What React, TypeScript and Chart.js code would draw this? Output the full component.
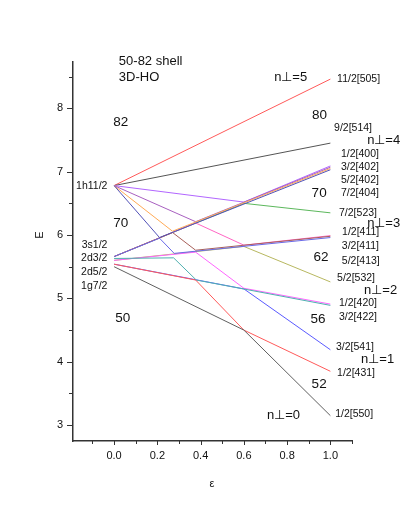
import { useEffect, useRef } from 'react';
import { Chart, registerables } from 'chart.js';

Chart.register(...registerables);

const FONT = '"Liberation Sans", Arial, Helvetica, sans-serif';

// axis ranges and ticks
const epsRange = [-0.19, 1.1];
const energyRange = [2.75, 8.73];
const xMajorTicks = [0, 0.2, 0.4, 0.6, 0.8, 1.0];
const xMinorTicks = [-0.1, 0.1, 0.3, 0.5, 0.7, 0.9, 1.1];
const yMajorTicks = [3, 4, 5, 6, 7, 8];
const yMinorTicks = [3.5, 4.5, 5.5, 6.5, 7.5, 8.5];

// level lines: [epsilon, E] points (kinks where same-Omega levels meet)
const level11_2_505 = [[0, 6.78], [1, 8.46]];
const level9_2_514 = [[0, 6.78], [1, 7.45]];
const level7_2_a = [[0, 6.78], [0.6, 6.52], [1, 7.09]];
const level7_2_b = [[0, 5.66], [0.6, 6.5], [1, 6.35]];
const level5_2_a = [[0, 6.78], [0.377, 6.21], [1, 7.07]];
const level5_2_b = [[0, 5.66], [0.377, 6.19], [0.6, 5.84], [1, 5.99]];
const level5_2_c = [[0, 5.6], [0.6, 5.82], [1, 5.26]];
const level3_2_a = [[0, 6.78], [0.27, 6.06], [1, 7.05]];
const level3_2_b = [[0, 5.66], [0.27, 6.04], [0.377, 5.76], [1, 5.98]];
const level3_2_c = [[0, 5.6], [0.377, 5.73], [0.6, 5.16], [1, 4.91]];
const level3_2_d = [[0, 5.54], [0.6, 5.15], [1, 4.19]];
const level1_2_a = [[0, 6.78], [0.21, 5.96], [1, 7.03]];
const level1_2_b = [[0, 5.66], [0.21, 5.95], [0.278, 5.71], [1, 5.96]];
const level1_2_c = [[0, 5.63], [0.275, 5.64], [0.38, 5.29], [1, 4.89]];
const level1_2_d = [[0, 5.54], [0.377, 5.29], [0.6, 4.5], [1, 3.85]];
const level1_2_e = [[0, 5.5], [0.6, 4.5], [1, 3.15]];

const seriesData = [
  level1_2_e, level1_2_d, level1_2_c, level1_2_b, level1_2_a,
  level3_2_d, level3_2_c, level3_2_b, level3_2_a,
  level5_2_c, level5_2_b, level5_2_a,
  level7_2_b, level7_2_a,
  level9_2_514, level11_2_505,
];
const seriesColors = [
  '#606060', '#ff5a5a', '#4fb0b0', '#6a6ae8', '#5252b8',
  '#5a5aff', '#ff66ff', '#a8605a', '#ffaa55',
  '#b8b860', '#ff66c4', '#a860c0',
  '#5cb85c', '#b266ff',
  '#555555', '#ff5a5a',
];

// spherical and asymptotic labels
const sphericalLabels = ['1h11/2', '3s1/2', '2d3/2', '2d5/2', '1g7/2'];
const sphericalE = [6.772, 5.845, 5.63, 5.419, 5.197];
const asymptoticLabels = ['11/2[505]', '9/2[514]', '1/2[400]', '3/2[402]', '5/2[402]', '7/2[404]', '7/2[523]', '1/2[411]', '3/2[411]', '5/2[413]', '5/2[532]', '1/2[420]', '3/2[422]', '3/2[541]', '1/2[431]', '1/2[550]'];
const asymptoticEps = [1.031, 1.017, 1.049, 1.049, 1.049, 1.049, 1.04, 1.054, 1.053, 1.053, 1.031, 1.04, 1.04, 1.026, 1.031, 1.022];
const asymptoticE = [8.463, 7.689, 7.283, 7.077, 6.867, 6.657, 6.351, 6.041, 5.825, 5.592, 5.314, 4.929, 4.708, 4.234, 3.823, 3.171];
const nPerpLabels = ['n\u22A5=5', 'n\u22A5=4', 'n\u22A5=3', 'n\u22A5=2', 'n\u22A5=1', 'n\u22A5=0'];
const nPerpEps = [0.74, 1.17, 1.17, 1.156, 1.142, 0.707];
const nPerpE = [8.494, 7.499, 6.183, 5.13, 4.044, 3.155];
const magicLeft = ['82', '70', '50'];
const magicLeftEps = [0.031, 0.031, 0.04];
const magicLeftE = [7.784, 6.188, 4.687];
const magicRight = ['80', '70', '62', '56', '52'];
const magicRightEps = [0.95, 0.948, 0.957, 0.943, 0.948];
const magicRightE = [7.894, 6.657, 5.656, 4.671, 3.64];
const titleLines = ['50-82 shell', '3D-HO'];
const titleE = [8.747, 8.479];

type Note = { text: string; eps: number; E: number; size: number; align: CanvasTextAlign; rot?: number };

function buildNotes(): Note[] {
  const notes: Note[] = [];
  titleLines.forEach((t, i) => notes.push({ text: t, eps: 0.022, E: titleE[i], size: 13, align: 'left' }));
  sphericalLabels.forEach((t, i) => notes.push({ text: t, eps: -0.031, E: sphericalE[i], size: 10.5, align: 'right' }));
  asymptoticLabels.forEach((t, i) => notes.push({ text: t, eps: asymptoticEps[i], E: asymptoticE[i], size: 10.5, align: 'left' }));
  nPerpLabels.forEach((t, i) => notes.push({ text: t, eps: nPerpEps[i], E: nPerpE[i], size: 13, align: 'left' }));
  magicLeft.forEach((t, i) => notes.push({ text: t, eps: magicLeftEps[i], E: magicLeftE[i], size: 13.5, align: 'center' }));
  magicRight.forEach((t, i) => notes.push({ text: t, eps: magicRightEps[i], E: magicRightE[i], size: 13.5, align: 'center' }));
  notes.push({ text: 'E', eps: -0.344, E: 6.0, size: 11, align: 'center', rot: -Math.PI / 2 });
  notes.push({ text: '\u03B5', eps: 0.452, E: 2.07, size: 11, align: 'center' });
  return notes;
}

const AXIS_COLOR = '#333333';

const decorPlugin = {
  id: 'decor',
  beforeDraw(chart: any) {
    const { ctx, width, height } = chart;
    ctx.save();
    ctx.fillStyle = '#ffffff';
    ctx.fillRect(0, 0, width, height);
    ctx.restore();
  },
  afterDraw(chart: any) {
    const { ctx, chartArea, scales } = chart;
    const xs = scales.x;
    const ys = scales.y;
    ctx.save();
    ctx.strokeStyle = AXIS_COLOR;
    ctx.lineWidth = 1;
    const seg = (x1: number, y1: number, x2: number, y2: number) => {
      ctx.beginPath();
      ctx.moveTo(x1, y1);
      ctx.lineTo(x2, y2);
      ctx.stroke();
    };
    yMajorTicks.forEach((v) => { const p = Math.round(ys.getPixelForValue(v)) + 0.5; seg(chartArea.left - 6, p, chartArea.left, p); });
    yMinorTicks.forEach((v) => { const p = Math.round(ys.getPixelForValue(v)) + 0.5; seg(chartArea.left - 4, p, chartArea.left, p); });
    xMajorTicks.forEach((v) => { const p = Math.round(xs.getPixelForValue(v)) + 0.5; seg(p, chartArea.bottom, p, chartArea.bottom + 4); });
    xMinorTicks.forEach((v) => { const p = Math.round(xs.getPixelForValue(v)) + 0.5; seg(p, chartArea.bottom, p, chartArea.bottom + 3); });

    ctx.fillStyle = '#111111';
    ctx.textBaseline = 'middle';
    for (const n of buildNotes()) {
      ctx.font = `${n.size}px ${FONT}`;
      ctx.textAlign = n.align;
      const px = xs.getPixelForValue(n.eps);
      const py = ys.getPixelForValue(n.E);
      if (n.rot) {
        ctx.save();
        ctx.translate(px, py);
        ctx.rotate(n.rot);
        ctx.fillText(n.text, 0, 0);
        ctx.restore();
      } else {
        ctx.fillText(n.text, px, py);
      }
    }
    ctx.restore();
  },
};

export default function App() {
  const ref = useRef<HTMLCanvasElement | null>(null);
  useEffect(() => {
    if (!ref.current) return;
    const datasets = seriesData.map((pts, i) => ({
      data: pts.map(([e, v]) => ({ x: e, y: v })),
      borderColor: seriesColors[i],
      backgroundColor: seriesColors[i],
      borderWidth: 1,
      pointRadius: 0,
      showLine: true,
      fill: false,
      tension: 0,
    }));
    const chart = new Chart(ref.current, {
      type: 'scatter',
      data: { datasets },
      options: {
        animation: false,
        responsive: false,
        events: [],
        layout: { padding: { left: 0, top: 62, right: 57, bottom: 0 } },
        plugins: { legend: { display: false }, tooltip: { enabled: false }, title: { display: false } },
        scales: {
          x: {
            type: 'linear',
            min: epsRange[0],
            max: epsRange[1],
            afterFit: (s: any) => { s.height = 88; },
            afterBuildTicks: (s: any) => { s.ticks = xMajorTicks.map((v) => ({ value: v })); },
            grid: { display: false, drawTicks: false },
            border: { display: true, color: AXIS_COLOR, width: 1.5 },
            ticks: {
              padding: 8,
              color: '#111111',
              font: { family: FONT, size: 11 },
              callback: (v: any) => Number(v).toFixed(1),
              maxRotation: 0,
            },
          },
          y: {
            type: 'linear',
            min: energyRange[0],
            max: energyRange[1],
            afterFit: (s: any) => { s.width = 73; },
            afterBuildTicks: (s: any) => { s.ticks = yMajorTicks.map((v) => ({ value: v })); },
            grid: { display: false, drawTicks: false },
            border: { display: true, color: AXIS_COLOR, width: 1.5 },
            ticks: {
              padding: 10,
              color: '#111111',
              font: { family: FONT, size: 11 },
              callback: (v: any) => String(v),
            },
          },
        },
      },
      plugins: [decorPlugin],
    });
    return () => chart.destroy();
  }, []);
  return (
    <div style={{ position: 'fixed', left: 0, top: 0, width: 409, height: 529 }}>
      <canvas ref={ref} width={409} height={529} style={{ width: 409, height: 529 }} />
    </div>
  );
}
